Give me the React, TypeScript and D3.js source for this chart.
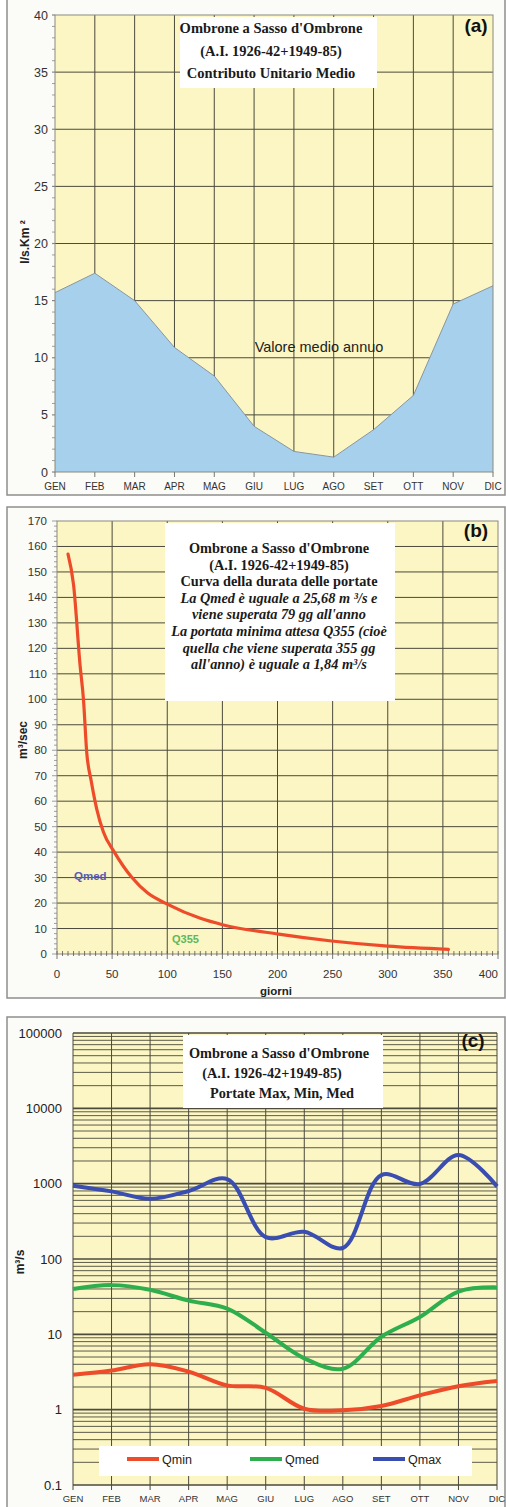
import React, { useRef, useEffect } from "react";
import * as d3 from "d3";

// mesi (asse x pannelli a e c)
const months = ["GEN", "FEB", "MAR", "APR", "MAG", "GIU", "LUG", "AGO", "SET", "OTT", "NOV", "DIC"];

// (a) contributo unitario medio l/s.Km2
const contributo = [15.7, 17.4, 15.0, 10.9, 8.4, 4.0, 1.8, 1.3, 3.7, 6.7, 14.7, 16.3];
const ticksA = [0, 5, 10, 15, 20, 25, 30, 35, 40];

// (b) curva di durata
const durataGiorni = [10, 15, 21, 24, 27, 31, 36, 42, 52, 68, 82, 100, 130, 151, 201, 249, 300, 355];
const durataPortata = [157, 145, 113, 100, 79, 68, 57, 48, 40, 30, 24, 19.6, 14, 11.4, 7.8, 5.1, 3.1, 1.84];
const ticksBy = [0, 10, 20, 30, 40, 50, 60, 70, 80, 90, 100, 110, 120, 130, 140, 150, 160, 170];
const ticksBx = [0, 50, 100, 150, 200, 250, 300, 350, 400];

// (c) portate max, min, med
const qmin = [2.9, 3.3, 4.0, 3.2, 2.1, 1.95, 1.03, 0.98, 1.12, 1.55, 2.05, 2.4];
const qmed = [40, 45, 39, 28, 22, 10.5, 4.8, 3.5, 9.3, 17, 37, 42];
const qmax = [940, 790, 630, 800, 1150, 195, 230, 140, 1300, 990, 2400, 920];
const ticksC = [0.1, 1, 10, 100, 1000, 10000, 100000];
const ticksCLabels = ["0.1", "1", "10", "100", "1000", "10000", "100000"];

const titleA = ["Ombrone a Sasso d'Ombrone", "(A.I. 1926-42+1949-85)", "Contributo Unitario Medio"];
const titleB = [
  "Ombrone a Sasso d'Ombrone",
  "(A.I. 1926-42+1949-85)",
  "Curva della durata delle portate",
  "La Qmed è uguale a 25,68 m ³/s e",
  "viene superata 79 gg all'anno",
  "La portata minima attesa Q355 (cioè",
  "quella che viene superata 355 gg",
  "all'anno) è uguale a 1,84 m³/s",
];
const titleC = ["Ombrone a Sasso d'Ombrone", "(A.I. 1926-42+1949-85)", "Portate Max, Min, Med"];

const YELLOW = "#fbf6c3";
const GRID = "#4b4a3c";
const SANS = "'Liberation Sans', Arial, sans-serif";
const NARROW = "'Liberation Sans Narrow', 'Liberation Sans', Arial, sans-serif";
const SERIF = "'Liberation Serif', 'Times New Roman', serif";
const RED = "#ee4b2b";
const GREEN = "#2fae4e";
const BLUE = "#3a4db0";

function App() {
  const ref = useRef<SVGSVGElement>(null);

  useEffect(() => {
    const svg = d3.select(ref.current);
    svg.selectAll("*").remove();

    // cornici dei pannelli
    const frames = [
      [7, -2, 498, 497],
      [7, 507, 498, 491],
      [7, 1017, 498, 495],
    ];
    svg
      .selectAll("rect.frame")
      .data(frames)
      .enter()
      .append("rect")
      .attr("x", (d) => d[0])
      .attr("y", (d) => d[1])
      .attr("width", (d) => d[2])
      .attr("height", (d) => d[3])
      .attr("fill", "#fbfbf8")
      .attr("stroke", "#8e8e8e")
      .attr("stroke-width", 1.5);

    const titleBox = (g: any, x0: number, y0: number, w: number, h: number) =>
      g.append("rect").attr("x", x0).attr("y", y0).attr("width", w).attr("height", h).attr("fill", "#fff");

    // ---------------- (a) ----------------
    {
      const g = svg.append("g");
      const x = d3.scalePoint<string>().domain(months).range([55, 493]);
      const y = d3.scaleLinear().domain([0, 40]).range([472, 15]);

      g.append("rect").attr("x", 55).attr("y", 15).attr("width", 438).attr("height", 457).attr("fill", YELLOW);

      g.selectAll("line.h")
        .data(ticksA.slice(1, -1))
        .enter()
        .append("line")
        .attr("x1", 55)
        .attr("x2", 493)
        .attr("y1", (d) => y(d))
        .attr("y2", (d) => y(d))
        .attr("stroke", GRID)
        .attr("stroke-width", 1);
      g.selectAll("line.v")
        .data(months.slice(1, -1))
        .enter()
        .append("line")
        .attr("x1", (d) => x(d)!)
        .attr("x2", (d) => x(d)!)
        .attr("y1", 15)
        .attr("y2", 472)
        .attr("stroke", GRID)
        .attr("stroke-width", 1);

      const area = d3
        .area<number>()
        .x((d, i) => x(months[i])!)
        .y0(y(0))
        .y1((d) => y(d));
      g.append("path").attr("d", area(contributo)).attr("fill", "#a7d0ec");
      g.append("path")
        .attr("d", d3.line<number>().x((d, i) => x(months[i])!).y((d) => y(d))(contributo))
        .attr("fill", "none")
        .attr("stroke", "#8796a3")
        .attr("stroke-width", 1);

      g.append("rect").attr("x", 55).attr("y", 15).attr("width", 438).attr("height", 457)
        .attr("fill", "none").attr("stroke", "#8a8a7a").attr("stroke-width", 1);

      // tacche
      g.selectAll("line.mt")
        .data(d3.range(0, 41, 1))
        .enter()
        .append("line")
        .attr("x1", 52)
        .attr("x2", 55)
        .attr("y1", (d) => y(d))
        .attr("y2", (d) => y(d))
        .attr("stroke", "#888")
        .attr("stroke-width", (d) => (d % 5 === 0 ? 1.2 : 0.8));
      g.selectAll("line.xt")
        .data(months)
        .enter()
        .append("line")
        .attr("x1", (d) => x(d)!)
        .attr("x2", (d) => x(d)!)
        .attr("y1", 472)
        .attr("y2", 477)
        .attr("stroke", "#777");

      g.selectAll("text.yt")
        .data(ticksA)
        .enter()
        .append("text")
        .attr("x", 48)
        .attr("y", (d) => y(d) + 4.5)
        .attr("text-anchor", "end")
        .style("font-family", SANS)
        .style("font-size", "12.5px")
        .style("fill", "#333")
        .text((d) => d);
      g.selectAll("text.xt")
        .data(months)
        .enter()
        .append("text")
        .attr("x", (d) => x(d)!)
        .attr("y", 490)
        .attr("text-anchor", "middle")
        .style("font-family", NARROW)
        .style("font-size", "10px")
        .style("fill", "#333")
        .text((d) => d);

      g.append("text")
        .attr("transform", "translate(29,242) rotate(-90)")
        .attr("text-anchor", "middle")
        .style("font-family", SANS)
        .style("font-size", "12px")
        .style("font-weight", "bold")
        .style("fill", "#222")
        .text("l/s.Km ²");

      g.append("text")
        .attr("x", 319)
        .attr("y", 352)
        .attr("text-anchor", "middle")
        .style("font-family", SANS)
        .style("font-size", "14.5px")
        .style("fill", "#222")
        .text("Valore medio annuo");

      titleBox(g, 180, 17, 197, 71);
      g.selectAll("text.t")
        .data(titleA)
        .enter()
        .append("text")
        .attr("x", 271)
        .attr("y", (d, i) => 33 + i * 22.5)
        .attr("text-anchor", "middle")
        .style("font-family", SERIF)
        .style("font-size", "14.5px")
        .style("font-weight", "bold")
        .style("fill", "#1a1a1a")
        .text((d) => d);

      g.append("text")
        .attr("x", 476)
        .attr("y", 32)
        .attr("text-anchor", "middle")
        .style("font-family", SANS)
        .style("font-size", "19px")
        .style("font-weight", "bold")
        .style("fill", "#111")
        .text("(a)");
    }

    // ---------------- (b) ----------------
    {
      const g = svg.append("g");
      const x = d3.scaleLinear().domain([0, 400]).range([57, 498]);
      const y = d3.scaleLinear().domain([0, 170]).range([954, 521]);

      g.append("rect").attr("x", 57).attr("y", 521).attr("width", 441).attr("height", 433).attr("fill", YELLOW);

      g.selectAll("line.h")
        .data(ticksBy.slice(1, -1))
        .enter()
        .append("line")
        .attr("x1", 57)
        .attr("x2", 498)
        .attr("y1", (d) => y(d))
        .attr("y2", (d) => y(d))
        .attr("stroke", GRID)
        .attr("stroke-width", 1);
      g.selectAll("line.v")
        .data(ticksBx.slice(1, -1))
        .enter()
        .append("line")
        .attr("x1", (d) => x(d))
        .attr("x2", (d) => x(d))
        .attr("y1", 521)
        .attr("y2", 954)
        .attr("stroke", GRID)
        .attr("stroke-width", 1);

      g.append("rect").attr("x", 57).attr("y", 521).attr("width", 441).attr("height", 433)
        .attr("fill", "none").attr("stroke", "#8a8a7a").attr("stroke-width", 1);

      g.selectAll("line.my")
        .data(d3.range(0, 171, 2))
        .enter()
        .append("line")
        .attr("x1", (d) => (d % 10 === 0 ? 52 : 54))
        .attr("x2", 57)
        .attr("y1", (d) => y(d))
        .attr("y2", (d) => y(d))
        .attr("stroke", "#888")
        .attr("stroke-width", 0.8);
      g.selectAll("line.mx")
        .data(d3.range(0, 401, 5))
        .enter()
        .append("line")
        .attr("x1", (d) => x(d))
        .attr("x2", (d) => x(d))
        .attr("y1", 951)
        .attr("y2", (d) => (d % 50 === 0 ? 959 : 956))
        .attr("stroke", "#555")
        .attr("stroke-width", 0.8);

      g.append("path")
        .attr(
          "d",
          d3
            .line<number>()
            .x((d) => x(d))
            .y((d, i) => y(durataPortata[i]))
            .curve(d3.curveMonotoneX)(durataGiorni)
        )
        .attr("fill", "none")
        .attr("stroke", RED)
        .attr("stroke-width", 3.2)
        .attr("stroke-linecap", "round");

      g.selectAll("text.yt")
        .data(ticksBy)
        .enter()
        .append("text")
        .attr("x", 47)
        .attr("y", (d) => y(d) + 4)
        .attr("text-anchor", "end")
        .style("font-family", SANS)
        .style("font-size", "11.5px")
        .style("fill", "#333")
        .text((d) => d);
      g.selectAll("text.xt")
        .data(ticksBx)
        .enter()
        .append("text")
        .attr("x", (d) => Math.min(x(d), 504))
        .attr("y", 978)
        .attr("text-anchor", (d) => (x(d) > 490 ? "end" : "middle"))
        .style("font-family", SANS)
        .style("font-size", "11.5px")
        .style("fill", "#333")
        .text((d) => d);

      g.append("text")
        .attr("x", 276)
        .attr("y", 995)
        .attr("text-anchor", "middle")
        .style("font-family", SANS)
        .style("font-size", "11.5px")
        .style("font-weight", "bold")
        .style("fill", "#222")
        .text("giorni");

      g.append("text")
        .attr("transform", "translate(27,740) rotate(-90)")
        .attr("text-anchor", "middle")
        .style("font-family", SANS)
        .style("font-size", "12px")
        .style("font-weight", "bold")
        .style("fill", "#222")
        .text("m³/sec");

      g.append("text")
        .attr("x", 74)
        .attr("y", 880)
        .style("font-family", SANS)
        .style("font-size", "11.5px")
        .style("font-weight", "bold")
        .style("fill", "#5a5cb0")
        .text("Qmed");
      g.append("text")
        .attr("x", 172)
        .attr("y", 943)
        .style("font-family", SANS)
        .style("font-size", "11px")
        .style("font-weight", "bold")
        .style("fill", "#5cb860")
        .text("Q355");

      titleBox(g, 165, 523, 230, 178);
      g.selectAll("text.t")
        .data(titleB)
        .enter()
        .append("text")
        .attr("x", 279)
        .attr("y", (d, i) => 553 + i * 16.6)
        .attr("text-anchor", "middle")
        .style("font-family", SERIF)
        .style("font-size", "14.3px")
        .style("font-weight", "bold")
        .style("font-style", (d, i) => (i >= 3 ? "italic" : "normal"))
        .style("fill", "#1a1a1a")
        .text((d) => d);

      g.append("text")
        .attr("x", 476)
        .attr("y", 537)
        .attr("text-anchor", "middle")
        .style("font-family", SANS)
        .style("font-size", "19px")
        .style("font-weight", "bold")
        .style("fill", "#111")
        .text("(b)");
    }

    // ---------------- (c) ----------------
    {
      const g = svg.append("g");
      const x = d3.scalePoint<string>().domain(months).range([73, 497]);
      const y = d3.scaleLog().domain([0.1, 100000]).range([1485, 1033]);

      g.append("rect").attr("x", 73).attr("y", 1033).attr("width", 424).attr("height", 452).attr("fill", YELLOW);

      const minor: number[] = [];
      for (let e = -1; e < 5; e++) for (let k = 1; k < 10; k++) minor.push(k * Math.pow(10, e));
      minor.push(100000);
      g.selectAll("line.h")
        .data(minor)
        .enter()
        .append("line")
        .attr("x1", 73)
        .attr("x2", 497)
        .attr("y1", (d) => y(d))
        .attr("y2", (d) => y(d))
        .attr("stroke", GRID)
        .attr("stroke-width", (d) => (ticksC.includes(d) ? 1.6 : 0.9));
      g.selectAll("line.v")
        .data(months)
        .enter()
        .append("line")
        .attr("x1", (d) => x(d)!)
        .attr("x2", (d) => x(d)!)
        .attr("y1", 1033)
        .attr("y2", 1490)
        .attr("stroke", GRID)
        .attr("stroke-width", 1);

      const series = [
        { name: "Qmin", values: qmin, color: RED },
        { name: "Qmed", values: qmed, color: GREEN },
        { name: "Qmax", values: qmax, color: BLUE },
      ];
      const line = d3
        .line<number>()
        .x((d, i) => x(months[i])!)
        .y((d) => y(d))
        .curve(d3.curveCatmullRom.alpha(0.5));

      // legenda
      g.append("rect").attr("x", 99).attr("y", 1446).attr("width", 373).attr("height", 30).attr("fill", "#fff");
      const lx = [127, 250, 373];
      series.forEach((s, i) => {
        g.append("line")
          .attr("x1", lx[i])
          .attr("x2", lx[i] + 32)
          .attr("y1", 1459)
          .attr("y2", 1459)
          .attr("stroke", s.color)
          .attr("stroke-width", 4);
        g.append("text")
          .attr("x", lx[i] + 35)
          .attr("y", 1463.5)
          .style("font-family", SANS)
          .style("font-size", "12.5px")
          .style("fill", "#222")
          .text(s.name);
      });

      series.forEach((s) => {
        g.append("path")
          .attr("d", line(s.values))
          .attr("fill", "none")
          .attr("stroke", s.color)
          .attr("stroke-width", 4);
      });

      g.selectAll("text.yt")
        .data(ticksC)
        .enter()
        .append("text")
        .attr("x", 62)
        .attr("y", (d) => y(d) + 4.5)
        .attr("text-anchor", "end")
        .style("font-family", SANS)
        .style("font-size", "13px")
        .style("fill", "#222")
        .text((d, i) => ticksCLabels[i]);
      g.selectAll("text.xt")
        .data(months)
        .enter()
        .append("text")
        .attr("x", (d) => x(d)!)
        .attr("y", 1502)
        .attr("text-anchor", "middle")
        .style("font-family", NARROW)
        .style("font-size", "9.5px")
        .style("fill", "#333")
        .text((d) => d);

      g.append("text")
        .attr("transform", "translate(24,1262) rotate(-90)")
        .attr("text-anchor", "middle")
        .style("font-family", SANS)
        .style("font-size", "12px")
        .style("font-weight", "bold")
        .style("fill", "#222")
        .text("m³/s");

      titleBox(g, 183, 1035, 200, 73);
      const tx = [279, 272, 282];
      g.selectAll("text.t")
        .data(titleC)
        .enter()
        .append("text")
        .attr("x", (d, i) => tx[i])
        .attr("y", (d, i) => 1058 + i * 20)
        .attr("text-anchor", "middle")
        .style("font-family", SERIF)
        .style("font-size", "14.3px")
        .style("font-weight", "bold")
        .style("fill", "#1a1a1a")
        .text((d) => d);

      g.append("text")
        .attr("x", 473)
        .attr("y", 1047)
        .attr("text-anchor", "middle")
        .style("font-family", SANS)
        .style("font-size", "19px")
        .style("font-weight", "bold")
        .style("fill", "#111")
        .text("(c)");
    }
  }, []);

  return (
    <div style={{ position: "absolute", left: 0, top: 0 }}>
      <svg ref={ref} width={506} height={1507} style={{ display: "block", background: "#fff" }}></svg>
    </div>
  );
}

export default App;
